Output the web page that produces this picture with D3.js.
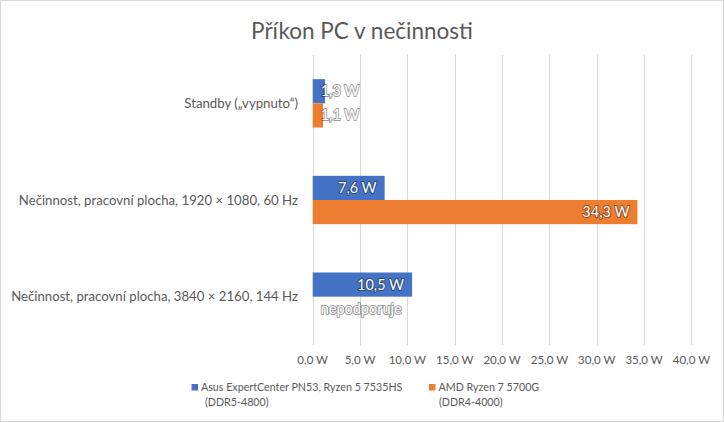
<!DOCTYPE html>
<html><head><meta charset="utf-8">
<script src="https://cdn.jsdelivr.net/npm/d3@7"></script>
<style>
html,body{margin:0;padding:0;background:#fff;}
svg{display:block;font-family:Lato,"Open Sans",sans-serif;}
</style></head>
<body><svg id="c" width="724" height="422"></svg>
<script>
const categories = ["Standby („vypnuto“)", "Nečinnost, pracovní plocha, 1920 × 1080, 60 Hz", "Nečinnost, pracovní plocha, 3840 × 2160, 144 Hz"];
const seriesNames = ["Asus ExpertCenter PN53, Ryzen 5 7535HS (DDR5-4800)", "AMD Ryzen 7 5700G (DDR4-4000)"];
const legendLines = [["Asus ExpertCenter PN53, Ryzen 5 7535HS", "(DDR5-4800)"], ["AMD Ryzen 7 5700G", "(DDR4-4000)"]];
const asusValues = [1.3, 7.6, 10.5];
const amdValues = [1.1, 34.3, null];
const valueLabels = [["1,3 W", "7,6 W", "10,5 W"], ["1,1 W", "34,3 W", "nepodporuje"]];
const xTicks = [0, 5, 10, 15, 20, 25, 30, 35, 40];
const colors = ["#4472C4", "#ED7D31"];
const title = "Příkon PC v nečinnosti";

const svg = d3.select("#c");
svg.append("rect").attr("x",0.5).attr("y",0.5).attr("width",723).attr("height",421)
  .attr("fill","#fff").attr("stroke","#d9d9d9");

const x = d3.scaleLinear().domain([0,40]).range([312.7, 691.4]);
const y0 = d3.scaleBand().domain(categories).range([55,345]).paddingInner(0.5).paddingOuter(0.25);
const y1 = d3.scaleBand().domain(seriesNames).range([0, y0.bandwidth()]);

svg.append("text").attr("x",362).attr("y",39).attr("text-anchor","middle")
  .attr("font-size",22.5).attr("fill","#595959").text(title);

// grid
svg.append("g").selectAll("line").data(xTicks).join("line")
  .attr("x1",d=>Math.round(x(d))+0.5).attr("x2",d=>Math.round(x(d))+0.5)
  .attr("y1",55).attr("y2",345).attr("stroke","#d9d9d9").attr("stroke-width",1);

// tick labels
const fmt = d => d.toFixed(1).replace(".", ",") + " W";
svg.append("g").selectAll("text").data(xTicks).join("text")
  .attr("x",d=>x(d)).attr("y",364).attr("text-anchor","middle")
  .attr("font-size",11.5).attr("fill","#595959").text(fmt);

// category labels
svg.append("g").selectAll("text").data(categories).join("text")
  .attr("x",298).attr("y",d=>y0(d)+y0.bandwidth()/2).attr("dy","0.35em")
  .attr("text-anchor","end").attr("font-size",13.2).attr("fill","#595959").text(d=>d);

const series = [asusValues, amdValues];
series.forEach((vals, si) => {
  const g = svg.append("g");
  categories.forEach((cat, ci) => {
    const v = vals[ci];
    const yy = y0(cat) + y1(seriesNames[si]);
    const h = y1.bandwidth();
    if (v != null) {
      g.append("rect").attr("x",x(0)).attr("y",yy).attr("width",x(v)-x(0)).attr("height",h)
        .attr("fill",colors[si]);
    }
    const lbl = valueLabels[si][ci];
    const t = g.append("text").attr("y",yy+h/2).attr("dy","0.35em")
      .attr("font-size",14.5).attr("fill","#fff")
      .attr("stroke","rgba(0,0,0,0.4)").attr("stroke-width",2).attr("paint-order","stroke")
      .attr("stroke-linejoin","round").text(lbl);
    const w = t.node().getComputedTextLength();
    if (v != null && (x(v)-x(0)) > w + 16) {
      t.attr("x", x(v)-8).attr("text-anchor","end");
    } else {
      t.attr("x", x(0)+8).attr("text-anchor","start");
    }
  });
});

// legend
const legX = [191.5, 429];
legendLines.forEach((lines, i) => {
  const g = svg.append("g");
  g.append("rect").attr("x",legX[i]).attr("y",384).attr("width",6.5).attr("height",6.5).attr("fill",colors[i]);
  g.append("text").attr("x",legX[i]+9.5).attr("y",391).attr("font-size",10.7).attr("fill","#595959").text(lines[0]);
  g.append("text").attr("x",legX[i]+(i===0?13.5:10)).attr("y",406).attr("font-size",10.7).attr("fill","#595959").text(lines[1]);
});
</script></body></html>
